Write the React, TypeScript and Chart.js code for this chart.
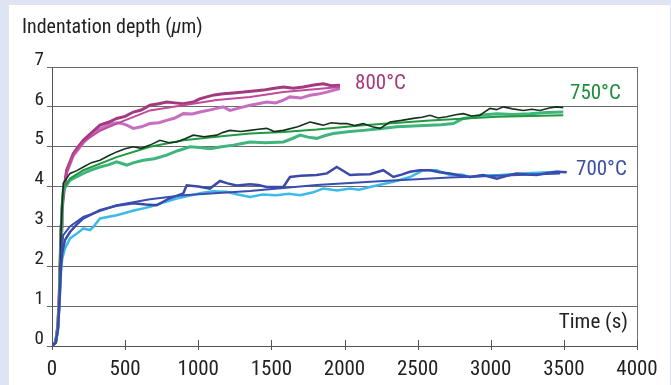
import React, { useEffect, useRef } from "react";
import { Chart, registerables } from "chart.js";

Chart.register(...registerables);

const FONT = "'Liberation Sans Narrow', 'Arial Narrow', 'Roboto Condensed', Roboto, sans-serif";

// ---------- data (time in s, depth in µm) ----------
const xTicks = [0, 500, 1000, 1500, 2000, 2500, 3000, 3500, 4000];
const yTicks = [0, 1, 2, 3, 4, 5, 6, 7];

const t800Dark = [0, 25, 40, 50, 57, 62, 68, 77, 100, 146, 180, 214, 270, 328, 390, 442, 500, 556, 610, 670, 730, 784, 840, 898, 966, 1010, 1058, 1110, 1171, 1240, 1308, 1380, 1445, 1510, 1582, 1650, 1718, 1790, 1855, 1910, 1969];
const v800Dark = [0, 0.1, 0.5, 1.3, 2.3, 3.0, 3.45, 3.8, 4.41, 4.83, 5.0, 5.16, 5.35, 5.54, 5.62, 5.71, 5.76, 5.87, 5.92, 6.04, 6.08, 6.12, 6.1, 6.08, 6.12, 6.2, 6.25, 6.3, 6.33, 6.35, 6.37, 6.4, 6.42, 6.46, 6.5, 6.47, 6.5, 6.55, 6.58, 6.53, 6.54];

const t800Light = [0, 25, 40, 50, 57, 62, 68, 77, 100, 146, 214, 270, 328, 390, 442, 480, 511, 556, 610, 670, 730, 784, 840, 898, 960, 1012, 1090, 1171, 1217, 1290, 1354, 1410, 1468, 1530, 1582, 1627, 1700, 1764, 1820, 1878, 1969];
const v800Light = [0, 0.1, 0.5, 1.3, 2.2, 2.9, 3.35, 3.7, 4.35, 4.78, 5.1, 5.3, 5.45, 5.55, 5.6, 5.58, 5.54, 5.46, 5.5, 5.58, 5.6, 5.66, 5.72, 5.83, 5.82, 5.87, 5.93, 6.0, 5.91, 5.98, 6.04, 6.08, 6.12, 6.1, 6.17, 6.25, 6.22, 6.29, 6.32, 6.37, 6.46];

const t800Fit = [60, 77, 100, 146, 214, 328, 442, 670, 898, 1126, 1354, 1582, 1969];
const v800Fit = [3.0, 3.75, 4.35, 4.8, 5.12, 5.4, 5.58, 5.91, 6.04, 6.17, 6.25, 6.37, 6.5];

const t750Black = [0, 25, 40, 50, 57, 62, 70, 77, 123, 170, 214, 270, 328, 390, 442, 500, 556, 610, 670, 738, 800, 852, 910, 966, 1040, 1126, 1170, 1217, 1290, 1354, 1410, 1468, 1520, 1582, 1680, 1764, 1810, 1855, 1910, 1969, 2015, 2070, 2129, 2190, 2243, 2311, 2390, 2471, 2530, 2585, 2640, 2699, 2760, 2812, 2870, 2926, 2995, 3040, 3086, 3150, 3223, 3280, 3337, 3400, 3451, 3496];
const v750Black = [0, 0.1, 0.45, 1.2, 2.1, 2.9, 3.6, 4.08, 4.33, 4.4, 4.49, 4.6, 4.66, 4.78, 4.87, 4.95, 5.0, 4.96, 5.04, 5.16, 5.1, 5.12, 5.2, 5.29, 5.25, 5.29, 5.36, 5.41, 5.38, 5.41, 5.44, 5.46, 5.38, 5.41, 5.5, 5.62, 5.58, 5.54, 5.6, 5.58, 5.58, 5.53, 5.58, 5.5, 5.46, 5.62, 5.66, 5.71, 5.74, 5.79, 5.72, 5.75, 5.8, 5.83, 5.77, 5.79, 5.96, 5.93, 6.0, 5.95, 5.91, 5.94, 5.91, 5.97, 6.0, 5.98];

const t750Green = [0, 25, 40, 50, 57, 62, 70, 77, 123, 214, 270, 328, 390, 442, 511, 560, 624, 700, 784, 860, 944, 1010, 1080, 1160, 1240, 1300, 1354, 1460, 1582, 1640, 1696, 1750, 1810, 1870, 1923, 2038, 2129, 2240, 2357, 2470, 2585, 2660, 2744, 2812, 2870, 2926, 3041, 3150, 3268, 3380, 3496];
const v750Green = [0, 0.1, 0.45, 1.2, 2.0, 2.8, 3.5, 3.91, 4.16, 4.33, 4.42, 4.49, 4.55, 4.62, 4.54, 4.6, 4.66, 4.7, 4.79, 4.9, 5.0, 4.98, 4.95, 5.0, 5.04, 5.08, 5.12, 5.1, 5.12, 5.2, 5.29, 5.24, 5.21, 5.28, 5.33, 5.38, 5.41, 5.45, 5.5, 5.52, 5.54, 5.55, 5.58, 5.71, 5.74, 5.79, 5.83, 5.81, 5.83, 5.86, 5.87];

const t750Fit = [62, 77, 123, 214, 442, 670, 898, 1126, 1354, 1582, 1810, 2129, 2585, 3041, 3496];
const v750Fit = [2.9, 3.95, 4.2, 4.41, 4.74, 5.0, 5.16, 5.25, 5.33, 5.37, 5.43, 5.54, 5.66, 5.75, 5.79];

const t700Dark = [0, 25, 40, 50, 57, 62, 70, 89, 123, 170, 214, 270, 328, 440, 556, 640, 716, 800, 898, 921, 1000, 1080, 1149, 1200, 1263, 1354, 1410, 1468, 1582, 1627, 1700, 1810, 1880, 1947, 2038, 2100, 2174, 2265, 2334, 2390, 2448, 2516, 2585, 2650, 2721, 2790, 2858, 2949, 3041, 3110, 3177, 3250, 3314, 3390, 3451, 3520];
const v700Dark = [0, 0.08, 0.4, 1.0, 1.6, 2.0, 2.35, 2.66, 2.86, 3.05, 3.2, 3.3, 3.41, 3.52, 3.58, 3.55, 3.53, 3.7, 3.83, 4.03, 4.0, 3.95, 4.14, 4.08, 4.03, 4.06, 4.04, 3.99, 3.99, 4.24, 4.27, 4.29, 4.33, 4.49, 4.29, 4.3, 4.31, 4.41, 4.24, 4.3, 4.37, 4.41, 4.41, 4.36, 4.33, 4.28, 4.24, 4.29, 4.2, 4.27, 4.33, 4.3, 4.29, 4.34, 4.37, 4.36];

const t700Cyan = [0, 25, 40, 50, 57, 62, 70, 89, 123, 170, 214, 260, 283, 328, 442, 560, 670, 760, 852, 930, 1012, 1100, 1194, 1270, 1354, 1440, 1536, 1620, 1696, 1780, 1855, 1950, 2038, 2100, 2174, 2250, 2334, 2448, 2539, 2630, 2721, 2800, 2858, 2960, 3063, 3150, 3223, 3350, 3474];
const v700Cyan = [0, 0.08, 0.4, 1.0, 1.5, 1.9, 2.2, 2.45, 2.7, 2.82, 2.95, 2.91, 2.99, 3.2, 3.28, 3.4, 3.49, 3.6, 3.7, 3.76, 3.83, 3.88, 3.87, 3.8, 3.74, 3.8, 3.78, 3.82, 3.78, 3.85, 3.95, 3.9, 3.95, 3.92, 3.99, 4.05, 4.12, 4.24, 4.41, 4.41, 4.29, 4.3, 4.24, 4.28, 4.29, 4.31, 4.33, 4.35, 4.37];

const t700Fit = [62, 77, 123, 214, 442, 670, 898, 1354, 1810, 2265, 2721, 3474];
const v700Fit = [2.3, 2.78, 3.0, 3.24, 3.53, 3.68, 3.78, 3.89, 4.04, 4.14, 4.23, 4.33];

const TITLE_PRE = "Indentation depth (";
const TITLE_MU = "\u03bc";
const TITLE_POST = "m)";
const X_TITLE = "Time (s)";
const tempLabels = ["800\u00b0C", "750\u00b0C", "700\u00b0C"];
// anchor of each temperature label in data units [time, depth]
const tempAnchors = [[2072, 6.57], [3542, 6.32], [3583, 4.41]];
const tempColors = ["#a5397a", "#1d8d3e", "#3a4fa6"];

const pts = (t: number[], v: number[]) => t.map((x, i) => ({ x, y: v[i] }));

const line = (t: number[], v: number[], color: string, width: number) => ({
  data: pts(t, v),
  borderColor: color,
  backgroundColor: color,
  borderWidth: width,
  pointRadius: 0,
  tension: 0,
  fill: false,
});

const decorPlugin = {
  id: "decor",
  afterDraw(chart: any) {
    const { ctx, chartArea, scales } = chart;
    const xs = scales.x;
    const ys = scales.y;
    ctx.save();
    ctx.strokeStyle = "#707070";
    ctx.lineWidth = 1;
    ctx.beginPath();
    ctx.moveTo(Math.round(chartArea.right) + 0.5, chartArea.top);
    ctx.lineTo(Math.round(chartArea.right) + 0.5, chartArea.bottom + 4);
    ctx.stroke();
    ctx.strokeStyle = "#555";
    for (const v of xTicks) {
      const px = Math.round(xs.getPixelForValue(v)) + 0.5;
      ctx.beginPath();
      ctx.moveTo(px, chartArea.bottom - 6);
      ctx.lineTo(px, chartArea.bottom + 4);
      ctx.stroke();
    }
    ctx.fillStyle = "#222";
    ctx.textBaseline = "alphabetic";
    ctx.textAlign = "left";
    let x = 22;
    const y = 33;
    ctx.font = `20px ${FONT}`;
    ctx.fillText(TITLE_PRE, x, y);
    x += ctx.measureText(TITLE_PRE).width;
    ctx.font = `italic 20px ${FONT}`;
    ctx.fillText(TITLE_MU, x, y);
    x += ctx.measureText(TITLE_MU).width;
    ctx.font = `20px ${FONT}`;
    ctx.fillText(TITLE_POST, x, y);
    ctx.textAlign = "right";
    ctx.textBaseline = "middle";
    ctx.font = `21px ${FONT}`;
    ctx.fillText(X_TITLE, xs.getPixelForValue(3938), ys.getPixelForValue(0.58));
    ctx.textAlign = "left";
    tempLabels.forEach((lab, i) => {
      ctx.fillStyle = tempColors[i];
      ctx.fillText(lab, xs.getPixelForValue(tempAnchors[i][0]), ys.getPixelForValue(tempAnchors[i][1]));
    });
    ctx.restore();
  },
};

export default function App() {
  const ref = useRef<HTMLCanvasElement | null>(null);

  useEffect(() => {
    if (!ref.current) return;
    const chart = new Chart(ref.current, {
      type: "line",
      data: {
        datasets: [
          line(t700Fit, v700Fit, "#3a4db0", 2),
          line(t700Dark, v700Dark, "#3b49a8", 2.5),
          line(t700Cyan, v700Cyan, "#3cbbea", 2.5),
          line(t750Black, v750Black, "#15301c", 1.6),
          line(t750Fit, v750Fit, "#1f9a40", 2),
          line(t750Green, v750Green, "#3fb57d", 3),
          line(t800Fit, v800Fit, "#c04a9a", 2),
          line(t800Dark, v800Dark, "#a33a7f", 3),
          line(t800Light, v800Light, "#c56fc0", 3),
        ],
      },
      options: {
        animation: false,
        responsive: false,
        devicePixelRatio: 1,
        layout: { padding: { left: 0, top: 67, right: 34, bottom: 0 } },
        plugins: {
          legend: { display: false },
          tooltip: { enabled: false },
          title: { display: false },
        },
        scales: {
          x: {
            type: "linear",
            min: 0,
            max: 4000,
            afterFit: (s: any) => {
              s.height = 39;
            },
            afterBuildTicks: (s: any) => {
              s.ticks = xTicks.map((v) => ({ value: v }));
            },
            grid: { display: false, drawTicks: false },
            border: { display: true, color: "#555", width: 1 },
            ticks: {
              padding: 11,
              color: "#222",
              font: { family: FONT, size: 21 },
              maxRotation: 0,
              autoSkip: false,
              callback: (v: any) => String(v),
            },
          },
          y: {
            type: "linear",
            min: 0,
            max: 7,
            afterFit: (s: any) => {
              s.width = 52;
            },
            afterBuildTicks: (s: any) => {
              s.ticks = yTicks.map((v) => ({ value: v }));
            },
            grid: { color: "#6a6a6a", lineWidth: 1, tickLength: 5, drawTicks: true },
            border: { display: true, color: "#555", width: 1 },
            ticks: {
              padding: 3,
              color: "#222",
              labelOffset: -7,
              font: { family: FONT, size: 19 },
              autoSkip: false,
              callback: (v: any) => String(v),
            },
          },
        },
      },
      plugins: [decorPlugin],
    } as any);
    return () => chart.destroy();
  }, []);

  return (
    <div style={{ position: "fixed", left: 0, top: 0, width: 671, height: 385, background: "#dfe4f4", overflow: "hidden" }}>
      <div style={{ position: "absolute", left: 9, top: 4, width: 661, height: 381, background: "#ffffff", borderTop: "1px solid #f2dde2", boxSizing: "border-box" }} />
      <canvas ref={ref} width={671} height={385} style={{ position: "absolute", left: 0, top: 0, width: 671, height: 385 }} />
    </div>
  );
}
